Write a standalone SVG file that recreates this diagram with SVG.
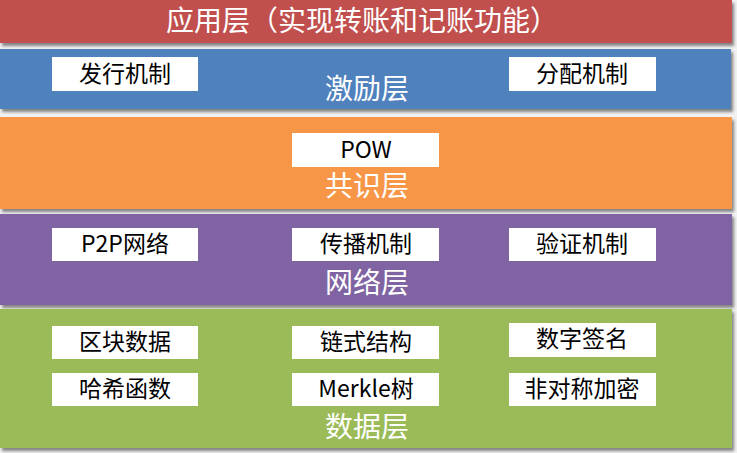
<svg xmlns="http://www.w3.org/2000/svg" width="737" height="453" viewBox="0 0 737 453">
<defs>
<filter id="sh" x="-5%" y="-10%" width="110%" height="130%">
<feDropShadow dx="2" dy="3" stdDeviation="1.5" flood-color="#000" flood-opacity="0.45"/>
</filter>
</defs>
<style>
.band{filter:url(#sh)}
.box{fill:#ffffff}
.bt{font-family:"Noto Sans CJK SC","Liberation Sans",sans-serif;font-size:23px;fill:#000;text-anchor:middle}
.lt{font-family:"Noto Sans CJK SC","Liberation Sans",sans-serif;font-size:28px;fill:#ffffff;text-anchor:middle}
</style>
<rect x="0" y="0" width="737" height="453" fill="#F1F1F1"/>
<g id="app">
<rect class="band" x="0" y="0" width="732" height="43" fill="#C0504D"/>
<text class="lt" x="362" y="31">应用层（实现转账和记账功能）</text>
</g>
<g id="incentive">
<rect class="band" x="0" y="49" width="731" height="60" fill="#4F81BD"/>
<rect class="box" x="52" y="57" width="146" height="34"/>
<text class="bt" x="125" y="82">发行机制</text>
<rect class="box" x="509" y="57" width="147" height="34"/>
<text class="bt" x="582" y="82">分配机制</text>
<text class="lt" x="367" y="99">激励层</text>
</g>
<g id="consensus">
<rect class="band" x="0" y="117" width="732" height="92" fill="#F79646"/>
<rect class="box" x="292" y="133" width="147" height="34"/>
<text class="bt" x="366" y="158">POW</text>
<text class="lt" x="367" y="196">共识层</text>
</g>
<g id="network">
<rect class="band" x="0" y="214" width="732" height="91" fill="#8064A2"/>
<rect class="box" x="52" y="228" width="146" height="33"/>
<text class="bt" x="125" y="252">P2P网络</text>
<rect class="box" x="292" y="228" width="147" height="33"/>
<text class="bt" x="366" y="252">传播机制</text>
<rect class="box" x="509" y="228" width="147" height="33"/>
<text class="bt" x="582" y="252">验证机制</text>
<text class="lt" x="367" y="293">网络层</text>
</g>
<g id="data">
<rect class="band" x="0" y="309" width="732" height="139" fill="#9BBB59"/>
<rect class="box" x="52" y="326" width="146" height="33"/>
<text class="bt" x="125" y="350">区块数据</text>
<rect class="box" x="292" y="326" width="147" height="33"/>
<text class="bt" x="366" y="350">链式结构</text>
<rect class="box" x="509" y="323" width="147" height="34"/>
<text class="bt" x="582" y="347">数字签名</text>
<rect class="box" x="52" y="373" width="146" height="33"/>
<text class="bt" x="125" y="397">哈希函数</text>
<rect class="box" x="292" y="373" width="147" height="33"/>
<text class="bt" x="366" y="397">Merkle树</text>
<rect class="box" x="509" y="373" width="147" height="33"/>
<text class="bt" x="582" y="397">非对称加密</text>
<text class="lt" x="367" y="437">数据层</text>
</g>
<g id="connectors"></g>
</svg>
